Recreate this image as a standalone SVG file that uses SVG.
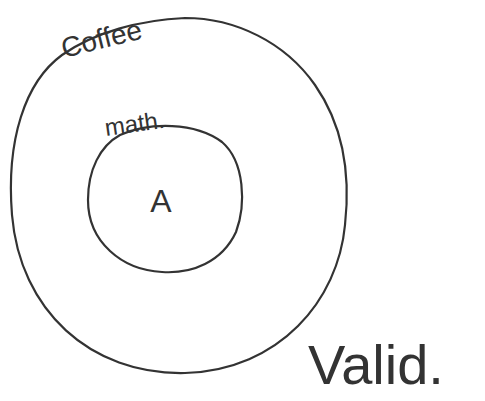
<svg xmlns="http://www.w3.org/2000/svg" width="485" height="401" viewBox="0 0 485 401">
<style>
.set{fill:none;stroke:#333;stroke-width:2.2;stroke-linecap:round}
.hand{font-family:"Liberation Sans",sans-serif;fill:#333}
</style>
<rect width="485" height="401" fill="#fff"/>
<g id="coffee">
<path class="set" d="M62,55 C95,32 140,20 185,18 C235,18 285,42 315,85 C345,128 350,180 345,225 C338,300 280,370 185,373 C90,375 20,310 12,215 C6,140 25,82 62,55 Z"/>
<text class="hand" x="64" y="58" font-size="28" transform="rotate(-14 64 58)">Coffee</text>
</g>
<g id="math">
<path class="set" d="M120,135 C150,122 195,122 222,142 C245,162 246,205 236,232 C222,262 192,274 162,272 C122,270 88,242 88,200 C88,170 100,146 120,135 Z"/>
<text class="hand" x="106" y="136" font-size="24" transform="rotate(-8 106 136)">math.</text>
</g>
<g id="a">
<text class="hand" x="161" y="212" font-size="32" text-anchor="middle">A</text>
</g>
<text class="hand" x="308" y="384" font-size="56" font-weight="300">Valid.</text>
</svg>
